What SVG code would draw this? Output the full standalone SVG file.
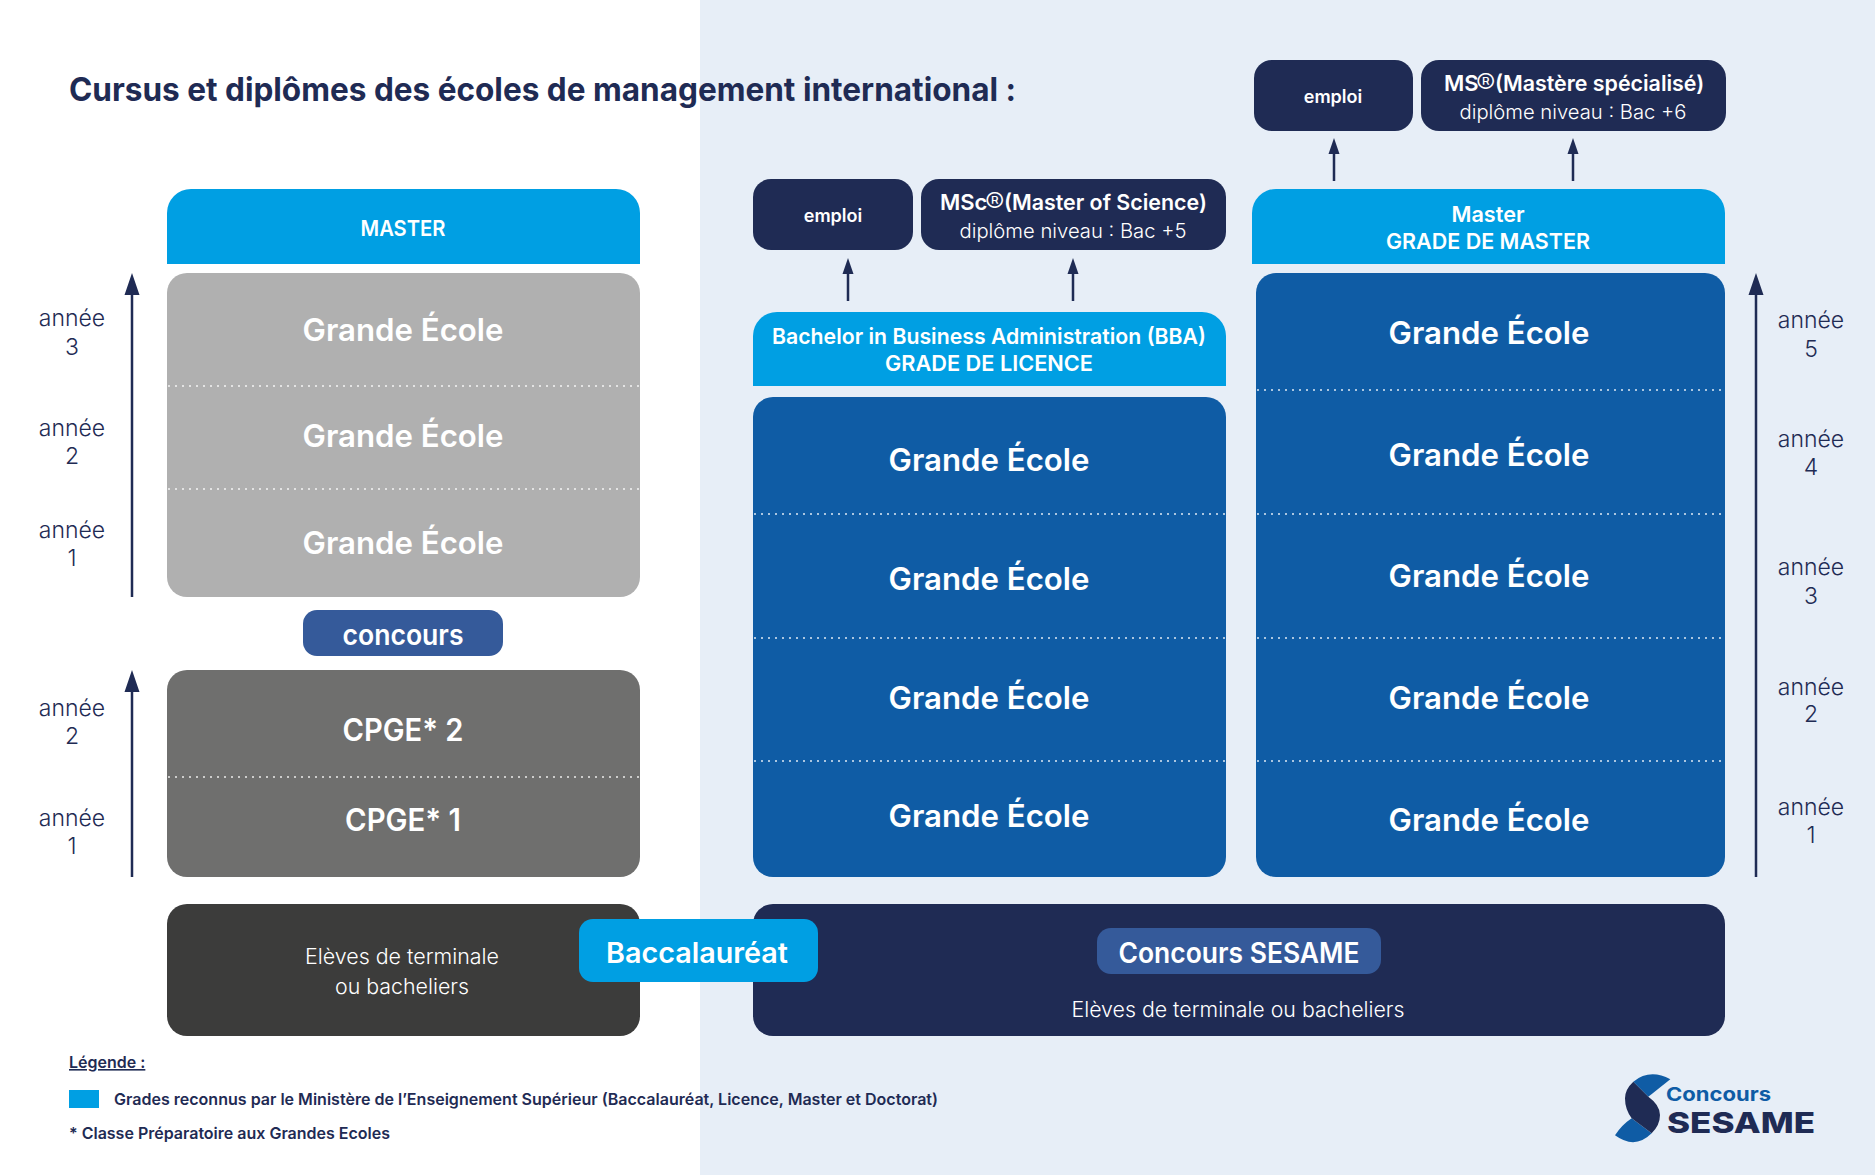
<svg xmlns="http://www.w3.org/2000/svg" width="1875" height="1175" viewBox="0 0 1875 1175">
<style>
text{font-family:"Inter","Liberation Sans",sans-serif;text-anchor:middle;fill:#fff}
.ge{font-size:31px;font-weight:600}
.an{font-size:23px;fill:#1f2b54;font-weight:300}
.hd{font-size:22px;font-weight:600}
.pa{font-size:21.400px}
.sb{font-size:20px;font-weight:300}
.rg{font-size:29px;font-weight:300}
.st{text-anchor:start}
.lg{font-size:16px;font-weight:600;fill:#1f2b54;text-anchor:start}
.dot{stroke:#fff;stroke-opacity:.65;stroke-width:2;stroke-dasharray:2 5;fill:none}
.arr{stroke:#1f2b54;stroke-width:2.500;fill:none}
.ah{fill:#1f2b54}
</style>
<rect width="1875" height="1175" fill="#fff"/>
<rect x="700" width="1175" height="1175" fill="#e7eef7"/>
<text x="69" y="101" style="font-size:32px;font-weight:700;fill:#1f2b54;text-anchor:start" textLength="947" lengthAdjust="spacingAndGlyphs">Cursus et diplômes des écoles de management international :</text>

<g id="connectors">
<path class="arr" d="M132 597V285M132 877V680M1756 877V283M848 301V266M1073 301V266M1334 181V146M1573 181V146"/>
<path class="ah" d="M132 273l-7.500 22h15zM132 670l-7.500 22h15zM1756 273l-7.500 22h15zM848 258l-5.500 16h11zM1073 258l-5.500 16h11zM1334 138l-5.500 16h11zM1573 138l-5.500 16h11z"/>
</g>

<g id="master-left"><path d="M167 264V213a24 24 0 0 1 24-24H616a24 24 0 0 1 24 24V264z" fill="#009fe3"/><text class="hd" x="403" y="236" textLength="85" lengthAdjust="spacingAndGlyphs">MASTER</text></g>
<g id="grande-ecole-gris"><rect x="167" y="273" width="473" height="324" rx="20" fill="#b0b0b0"/>
<path class="dot" d="M168 386H639M168 489H639"/>
<text class="ge" x="403" y="341" textLength="201" lengthAdjust="spacingAndGlyphs">Grande École</text>
<text class="ge" x="403" y="447" textLength="201" lengthAdjust="spacingAndGlyphs">Grande École</text>
<text class="ge" x="403" y="554" textLength="201" lengthAdjust="spacingAndGlyphs">Grande École</text></g>
<g id="concours"><rect x="303" y="610" width="200" height="46" rx="14" fill="#355a9a"/><text x="403" y="645" style="font-size:28px;font-weight:600" textLength="121" lengthAdjust="spacingAndGlyphs">concours</text></g>
<g id="cpge"><rect x="167" y="670" width="473" height="207" rx="20" fill="#6f6f6e"/>
<path class="dot" d="M168 777H639"/>
<text class="ge" x="403" y="741" textLength="121" lengthAdjust="spacingAndGlyphs">CPGE* 2</text><text class="ge" x="403" y="831" textLength="116" lengthAdjust="spacingAndGlyphs">CPGE* 1</text></g>
<g id="terminale"><rect x="167" y="904" width="473" height="132" rx="20" fill="#3c3c3b"/>
<text class="sb" x="402" y="964" style="font-size:21px" textLength="194" lengthAdjust="spacingAndGlyphs">Elèves de terminale</text><text class="sb" x="402" y="994" style="font-size:21px" textLength="134" lengthAdjust="spacingAndGlyphs">ou bacheliers</text></g>

<g id="sesame"><rect x="753" y="904" width="972" height="132" rx="20" fill="#1f2b54"/>
<rect x="1097" y="928" width="284" height="46" rx="14" fill="#355a9a"/>
<text x="1239" y="963" style="font-size:28px;font-weight:600" textLength="241" lengthAdjust="spacingAndGlyphs">Concours SESAME</text>
<text class="sb" x="1238" y="1017" style="font-size:21px" textLength="333" lengthAdjust="spacingAndGlyphs">Elèves de terminale ou bacheliers</text></g>
<g id="baccalaureat"><rect x="579" y="919" width="239" height="63" rx="14" fill="#009fe3"/><text x="697" y="963" style="font-size:28px;font-weight:600" textLength="182" lengthAdjust="spacingAndGlyphs">Baccalauréat</text></g>

<g id="emploi-1"><rect x="753" y="179" width="160" height="71" rx="18" fill="#1f2b54"/><text x="833" y="222" style="font-size:18px;font-weight:600">emploi</text></g>
<g id="msc"><rect x="921" y="179" width="305" height="71" rx="18" fill="#1f2b54"/>
<text class="hd st" x="940" y="210">MSc<tspan class="rg" x="985" dy="3">®</tspan><tspan class="pa" x="1004" dy="-3">(Master of Science)</tspan></text>
<text class="sb" x="1073" y="238" textLength="227" lengthAdjust="spacingAndGlyphs">diplôme niveau : Bac +5</text></g>
<g id="bba"><path d="M753 386V336a24 24 0 0 1 24-24H1202a24 24 0 0 1 24 24V386z" fill="#009fe3"/>
<text class="hd" x="989" y="344" textLength="434" lengthAdjust="spacingAndGlyphs">Bachelor in Business Administration (BBA)</text>
<text class="hd" x="989" y="371" textLength="208" lengthAdjust="spacingAndGlyphs">GRADE DE LICENCE</text></g>
<g id="grande-ecole-bba"><rect x="753" y="397" width="473" height="480" rx="20" fill="#0f5ca5"/>
<path class="dot" d="M754 514H1225M754 638H1225M754 761H1225"/>
<text class="ge" x="989" y="471" textLength="201" lengthAdjust="spacingAndGlyphs">Grande École</text>
<text class="ge" x="989" y="590" textLength="201" lengthAdjust="spacingAndGlyphs">Grande École</text>
<text class="ge" x="989" y="709" textLength="201" lengthAdjust="spacingAndGlyphs">Grande École</text>
<text class="ge" x="989" y="827" textLength="201" lengthAdjust="spacingAndGlyphs">Grande École</text></g>

<g id="emploi-2"><rect x="1254" y="60" width="159" height="71" rx="18" fill="#1f2b54"/><text x="1333" y="103" style="font-size:18px;font-weight:600">emploi</text></g>
<g id="ms"><rect x="1421" y="60" width="305" height="71" rx="18" fill="#1f2b54"/>
<text class="hd st" x="1444" y="91">MS<tspan class="rg" x="1476" dy="3">®</tspan><tspan class="pa" x="1495" dy="-3">(Mastère spécialisé)</tspan></text>
<text class="sb" x="1573" y="119" textLength="227" lengthAdjust="spacingAndGlyphs">diplôme niveau : Bac +6</text></g>
<g id="master-right"><path d="M1252 264V213a24 24 0 0 1 24-24H1701a24 24 0 0 1 24 24V264z" fill="#009fe3"/>
<text class="hd" x="1488" y="222" textLength="73" lengthAdjust="spacingAndGlyphs">Master</text>
<text class="hd" x="1488" y="249" textLength="204" lengthAdjust="spacingAndGlyphs">GRADE DE MASTER</text></g>
<g id="grande-ecole-master"><rect x="1256" y="273" width="469" height="604" rx="20" fill="#0f5ca5"/>
<path class="dot" d="M1257 390H1724M1257 514H1724M1257 638H1724M1257 761H1724"/>
<text class="ge" x="1489" y="344" textLength="201" lengthAdjust="spacingAndGlyphs">Grande École</text>
<text class="ge" x="1489" y="466" textLength="201" lengthAdjust="spacingAndGlyphs">Grande École</text>
<text class="ge" x="1489" y="587" textLength="201" lengthAdjust="spacingAndGlyphs">Grande École</text>
<text class="ge" x="1489" y="709" textLength="201" lengthAdjust="spacingAndGlyphs">Grande École</text>
<text class="ge" x="1489" y="831" textLength="201" lengthAdjust="spacingAndGlyphs">Grande École</text></g>

<g id="annees-gauche">
<text class="an" x="72" y="326">année</text><text class="an" x="72" y="355">3</text>
<text class="an" x="72" y="436">année</text><text class="an" x="72" y="464">2</text>
<text class="an" x="72" y="538">année</text><text class="an" x="72" y="566">1</text>
<text class="an" x="72" y="716">année</text><text class="an" x="72" y="744">2</text>
<text class="an" x="72" y="826">année</text><text class="an" x="72" y="854">1</text>
</g>
<g id="annees-droite">
<text class="an" x="1811" y="328">année</text><text class="an" x="1811" y="357">5</text>
<text class="an" x="1811" y="447">année</text><text class="an" x="1811" y="475">4</text>
<text class="an" x="1811" y="575">année</text><text class="an" x="1811" y="604">3</text>
<text class="an" x="1811" y="695">année</text><text class="an" x="1811" y="722">2</text>
<text class="an" x="1811" y="815">année</text><text class="an" x="1811" y="843">1</text>
</g>

<g id="legende">
<text class="lg" x="69" y="1068" text-decoration="underline">Légende :</text>
<rect x="69" y="1090" width="30" height="18" fill="#009fe3"/>
<text class="lg" x="114" y="1105" textLength="824" lengthAdjust="spacingAndGlyphs">Grades reconnus par le Ministère de l’Enseignement Supérieur (Baccalauréat, Licence, Master et Doctorat)</text>
<text class="lg" x="69" y="1139" textLength="321" lengthAdjust="spacingAndGlyphs">* Classe Préparatoire aux Grandes Ecoles</text>
</g>
<g id="logo">
<g transform="translate(1580 1050) scale(.3333)">
<path d="M160 95Q210 55 271 88L205 140Z" fill="#0f5ca5"/>
<path d="M105 256Q125 225 155 205L215 250Q165 300 105 256Z" fill="#0f5ca5"/>
<path d="M160 95Q135 118 135 145Q135 178 155 205L215 250Q240 225 240 195Q240 165 205 140Z" fill="#1f2b54"/>
</g>
<text x="1666" y="1101" style="font-size:19px;font-weight:700;fill:#0f5ca5;text-anchor:start" textLength="105" lengthAdjust="spacingAndGlyphs">Concours</text>
<text x="1667" y="1133" style="font-size:29px;font-weight:800;fill:#1f2b54;text-anchor:start" textLength="148" lengthAdjust="spacingAndGlyphs">SESAME</text>
</g>
</svg>
